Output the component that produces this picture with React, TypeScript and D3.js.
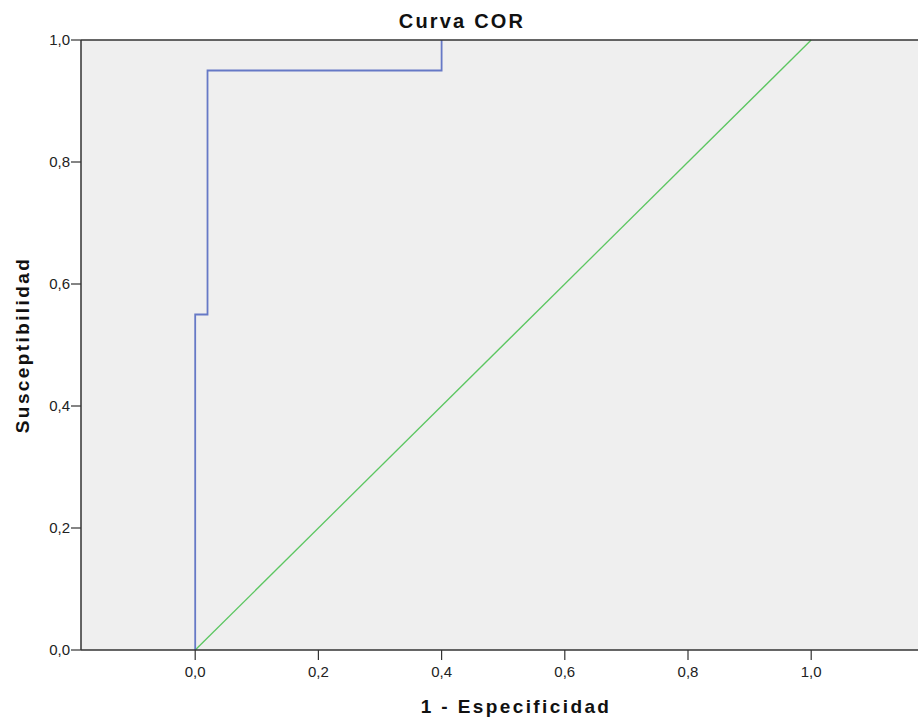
import React from "react";
import * as d3 from "d3";

const rocX = [0, 0, 0.02, 0.02, 0.4, 0.4];
const rocY = [0, 0.55, 0.55, 0.95, 0.95, 1.0];
const refX = [0, 1];
const refY = [0, 1];
const xTicks = [0, 0.2, 0.4, 0.6, 0.8, 1.0];
const yTicks = [0, 0.2, 0.4, 0.6, 0.8, 1.0];
const title = "Curva COR";
const xLabel = "1 - Especificidad";
const yLabel = "Susceptibilidad";

const W = 918;
const H = 720;
const left = 81;
const top = 40;
const bottom = 650;

export default function App() {
  const x = d3.scaleLinear().domain([0, 1]).range([195.2, 811.2]);
  const y = d3.scaleLinear().domain([0, 1]).range([bottom, top]);
  const fmt = (v: number) => d3.format(".1f")(v).replace(".", ",");
  const line = d3
    .line<[number, number]>()
    .x((d) => x(d[0]))
    .y((d) => y(d[1]));
  const rocPts = rocX.map((v, i) => [v, rocY[i]] as [number, number]);
  const refPts = refX.map((v, i) => [v, refY[i]] as [number, number]);
  const font = "'Liberation Sans', Arial, sans-serif";
  return (
    <div style={{ position: "fixed", left: 0, top: 0 }}>
      <svg width={W} height={H} style={{ display: "block", background: "#fff" }}>
        <rect x={left} y={top} width={W - left} height={bottom - top} fill="#efefef" />
        <path d={line(refPts) || ""} fill="none" stroke="#5cc661" strokeWidth={1.3} />
        <path d={line(rocPts) || ""} fill="none" stroke="#6679c6" strokeWidth={1.8} />
        <line x1={left} x2={W} y1={top} y2={top} stroke="#333" strokeWidth={1.5} />
        <line x1={left} x2={W} y1={bottom} y2={bottom} stroke="#333" strokeWidth={1.5} />
        <line x1={left} x2={left} y1={top} y2={bottom} stroke="#333" strokeWidth={1.5} />
        {yTicks.map((t) => (
          <g key={"y" + t}>
            <line x1={left - 10} x2={left} y1={y(t)} y2={y(t)} stroke="#333" strokeWidth={1.2} />
            <text x={left - 11} y={y(t)} dy="0.35em" textAnchor="end" fontFamily={font} fontSize={15} fill="#222">
              {fmt(t)}
            </text>
          </g>
        ))}
        {xTicks.map((t) => (
          <g key={"x" + t}>
            <line x1={x(t)} x2={x(t)} y1={bottom} y2={bottom + 10} stroke="#333" strokeWidth={1.2} />
            <text x={x(t)} y={bottom + 27} textAnchor="middle" fontFamily={font} fontSize={15} fill="#222">
              {fmt(t)}
            </text>
          </g>
        ))}
        <text x={462} y={28} textAnchor="middle" fontFamily={font} fontSize={20} fontWeight="bold" letterSpacing={2.2} fill="#111">
          {title}
        </text>
        <text x={516} y={713} textAnchor="middle" fontFamily={font} fontSize={19} fontWeight="bold" letterSpacing={2.4} fill="#111">
          {xLabel}
        </text>
        <text
          transform={`translate(29, ${(top + bottom) / 2}) rotate(-90)`}
          textAnchor="middle"
          fontFamily={font}
          fontSize={19}
          fontWeight="bold"
          letterSpacing={2.4}
          fill="#111"
        >
          {yLabel}
        </text>
      </svg>
    </div>
  );
}
